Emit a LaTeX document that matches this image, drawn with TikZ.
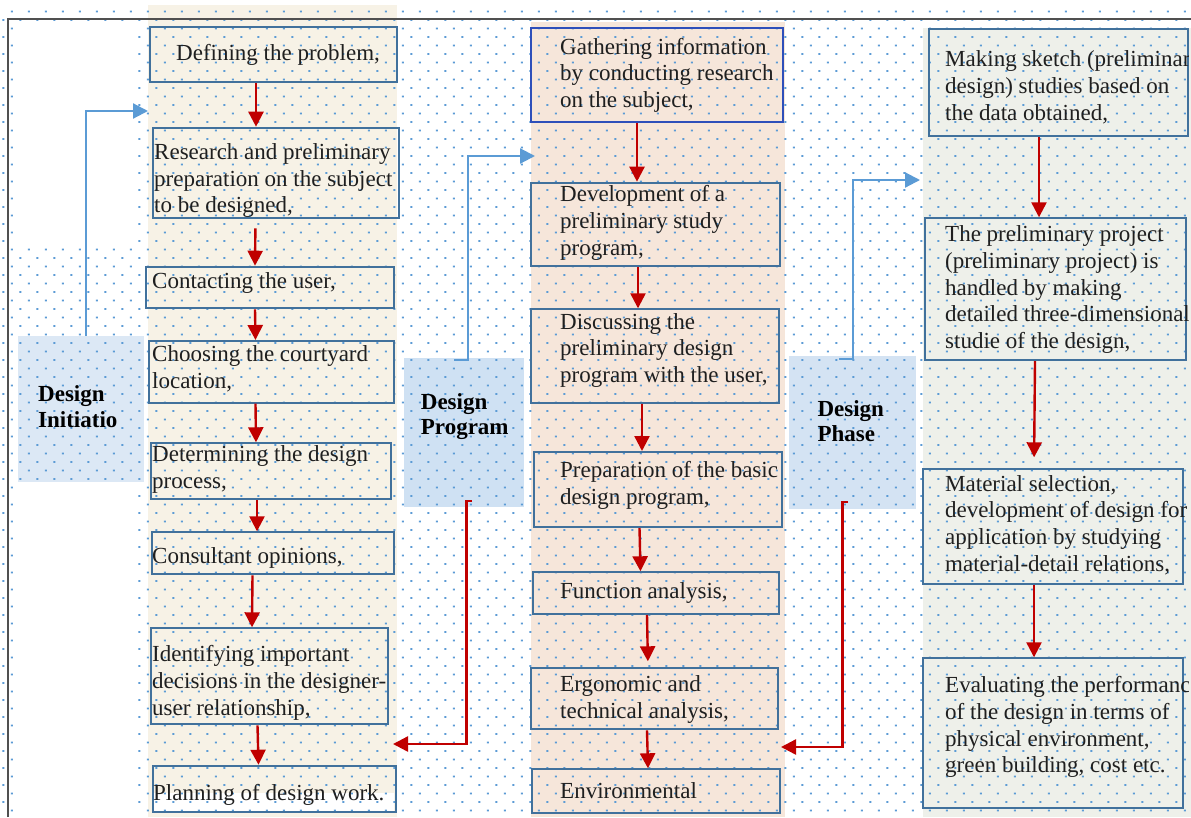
\documentclass[tikz,border=0pt]{standalone}
\usepackage{fontspec}
\setmainfont{Liberation Serif}
\usetikzlibrary{arrows.meta,fit}

\definecolor{colA}{HTML}{F7F2E6}
\definecolor{colB}{HTML}{F6E6DA}
\definecolor{colC}{HTML}{EEF0EA}
\definecolor{tagA}{HTML}{DCE8F5}
\definecolor{tagB}{HTML}{CFE1F3}
\definecolor{tagC}{HTML}{D4E3F3}
\definecolor{boxline}{HTML}{41719C}
\definecolor{flowred}{HTML}{C00000}
\definecolor{linkblue}{HTML}{5B9BD5}
\definecolor{dotblue}{HTML}{5B9BD5}
\definecolor{framegray}{HTML}{505050}

\begin{document}
\begin{tikzpicture}[x=1pt,y=-1pt,
  stepbox/.style={draw=boxline,line width=2pt,inner sep=0pt,rectangle},
  tagbox/.style={inner sep=0pt,rectangle},
  % multi-line texts are placed by the baseline of their last line
  txt/.style={inner sep=0pt,anchor=base west,align=left,
              font=\fontsize{23}{26.7}\selectfont,text=black!88},
  tagtxt/.style={inner sep=0pt,anchor=base west,align=left,
              font=\fontsize{23}{25.3}\selectfont\bfseries},
  flow/.style={draw=flowred,line width=2.4pt,-{Triangle[length=15pt,width=15pt]}},
  link/.style={draw=linkblue,line width=2.2pt,-{Triangle[length=15pt,width=15pt]}}]

\useasboundingbox (0,0) rectangle (1191,817);
\fill[white] (0,0) rectangle (1191,817);

% column backgrounds
\fill[colA] (148,5) rectangle (397,817);
\fill[colB] (531,22) rectangle (785,817);
\fill[colC] (923,28) rectangle (1191,817);

% stage tags
\node[tagbox,fill=tagA,fit={(18,336) (144,482)}] (tagI) {};
\node[tagbox,fill=tagB,fit={(404,358) (524,507)}] (tagP) {};
\node[tagbox,fill=tagC,fit={(789,356) (916,509)}] (tagD) {};

% text highlight in the last step of the first column
\fill[white] (154,793) rectangle (394,811);

% dotted page pattern
\fill[dotblue] \foreach \i in {0,...,70}{\foreach \j in {0,...,48}{
  (3.3+17*\i-1,20+17*\j-0.8) rectangle ++(2,1.6)
  (11.8+17*\i-1,11.5+17*\j-0.8) rectangle ++(2,1.6)}};

% blank panels on the left
\fill[white] (14,21) rectangle (136,247);
\fill[white] (14,483) rectangle (136,817);

% frame
\draw[framegray,line width=1.3pt] (8,817) -- (8,19) -- (1191,19);

% first column: design initiation
\node[stepbox,fit={(150,26.7) (397,82.3)}] (a1) {};
\node[stepbox,fit={(153.3,127.7) (399,218.3)}] (a2) {};
\node[stepbox,fit={(145.7,266.7) (394,308.3)}] (a3) {};
\node[stepbox,fit={(149,341) (394.3,402.7)}] (a4) {};
\node[stepbox,fit={(150.7,443.3) (390.7,499)}] (a5) {};
\node[stepbox,fit={(151.7,532.3) (394.3,574.3)}] (a6) {};
\node[stepbox,fit={(150.7,628.3) (388.3,724.3)}] (a7) {};
\node[stepbox,fit={(153.3,765.7) (395.7,811.7)}] (a8) {};

\node[txt] (ta1) at (176,60.7) {Defining the problem,};
\node[txt] (ta2) at (154,212.7) {Research and preliminary\\preparation on the subject\\to be designed,};
\node[txt] (ta3) at (152,288) {Contacting the user,};
\node[txt] (ta4) at (152,388.4) {Choosing the courtyard\\location,};
\node[txt] (ta5) at (152,488.4) {Determining the design\\process,};
\node[txt] (ta6) at (152,563) {Consultant opinions,};
\node[txt] (ta7) at (152,715.1) {Identifying important\\decisions in the designer-\\user relationship,};
\node[txt] (ta8) at (153,800.7) {Planning of design work.};

% second column: design program
\node[stepbox,draw=boxline!70!blue,fit={(531,28.3) (783.3,122.3)}] (b1) {};
\node[stepbox,fit={(531,182.7) (780,266)}] (b2) {};
\node[stepbox,fit={(530.7,309.3) (779.3,402.7)}] (b3) {};
\node[stepbox,fit={(534,452) (782.3,527)}] (b4) {};
\node[stepbox,fit={(533.3,572.3) (779,614)}] (b5) {};
\node[stepbox,fit={(530.7,668.3) (777.7,729.3)}] (b6) {};
\node[stepbox,fit={(532.3,769.3) (780,812.7)}] (b7) {};

\node[txt] (tb1) at (560,107.4) {Gathering information\\by conducting research\\on the subject,};
\node[txt] (tb2) at (560,255.1) {Development of a\\preliminary study\\program,};
\node[txt] (tb3) at (560,382.4) {Discussing the\\preliminary design\\program with the user,};
\node[txt] (tb4) at (560,504.4) {Preparation of the basic\\design program,};
\node[txt] (tb5) at (560,598.3) {Function analysis,};
\node[txt] (tb6) at (560,718.4) {Ergonomic and\\technical analysis,};
\node[txt] (tb7) at (560,798.3) {Environmental};

% third column: design phase
\node[stepbox,fit={(929.3,29.3) (1187.5,135.7)}] (c1) {};
\node[stepbox,fit={(925,218.3) (1185.7,360)}] (c2) {};
\node[stepbox,fit={(923.3,469.3) (1182.7,584)}] (c3) {};
\node[stepbox,fit={(923.3,658.3) (1182.7,808.3)}] (c4) {};

\begin{scope}
\clip (900,0) rectangle (1188.5,817);
\node[txt] (tc1) at (945,120.1) {Making sketch (preliminary\\design) studies based on\\the data obtained,};
\node[txt] (tc2) at (945,348.5) {The preliminary project\\(preliminary project) is\\handled by making\\detailed three-dimensional\\studie of the design,};
\node[txt] (tc3) at (945,571.1) {Material selection,\\development of design for\\application by studying\\material-detail relations,};
\node[txt] (tc4) at (945,772.8) {Evaluating the performance\\of the design in terms of\\physical environment,\\green building, cost etc.};
\end{scope}

% stage tag texts
\node[tagtxt] (lI) at (38,427) {Design\\Initiatio};
\node[tagtxt] (lP) at (420.7,434.6) {Design\\Program};
\node[tagtxt] (lD) at (817.3,441.3) {Design\\Phase};

% step-to-step flow
\draw[flow] (a1.south -| 256,0) -- (a2.north -| 256,0);
\draw[flow,shorten <=9pt] (a2.south -| 255.5,0) -- (a3.north -| 255,0);
\draw[flow] (a3.south -| 255,0) -- (a4.north -| 255.5,0);
\draw[flow] (a4.south -| 255.5,0) -- (a5.north -| 256,0);
\draw[flow] (a5.south -| 257,0) -- (a6.north -| 257,0);
\draw[flow] (a6.south -| 252.5,0) -- (a7.north -| 252,0);
\draw[flow] (a7.south -| 257.5,0) -- (a8.north -| 258.5,0);

\draw[flow] (b1.south -| 637,0) -- (b2.north -| 637,0);
\draw[flow] (b2.south -| 638,0) -- (b3.north -| 638,0);
\draw[flow] (b3.south -| 642,0) -- (b4.north -| 642,0);
\draw[flow] (b4.south -| 639.5,0) -- (b5.north -| 640.5,0);
\draw[flow,shorten >=6pt] (b5.south -| 647,0) -- (b6.north -| 648,0);
\draw[flow] (b6.south -| 647,0) -- (b7.north -| 648,0);

\draw[flow] (c1.south -| 1039,0) -- (c2.north -| 1039,0);
\draw[flow,shorten >=11pt] (c2.south -| 1035,0) -- (c3.north -| 1034,0);
\draw[flow] (c3.south -| 1034,0) -- (c4.north -| 1034,0);

% links from the stage tags into the columns
\coordinate (inA) at (148,111);
\coordinate (inB) at (535,156);
\coordinate (inC) at (920,180);
\draw[link] (tagI.north -| 86,0) |- (inA);
\draw[link] ([xshift=-10pt,yshift=-2pt]tagP.north) -- ++(14,0) |- (inB);
\draw[link] ([xshift=-13.5pt,yshift=-3pt]tagD.north) -- ++(14,0) |- (inC);

% return links back to the previous column
\coordinate (outA) at (393,744);
\coordinate (outB) at (781,747);
\draw[flow] ([xshift=8pt,yshift=6pt]tagP.south) -- ++(-5.5,0) |- (outA);
\draw[flow] ([xshift=-4.5pt,yshift=7.5pt]tagD.south) -- ++(-5.5,0) |- (outB);

\end{tikzpicture}
\end{document}
